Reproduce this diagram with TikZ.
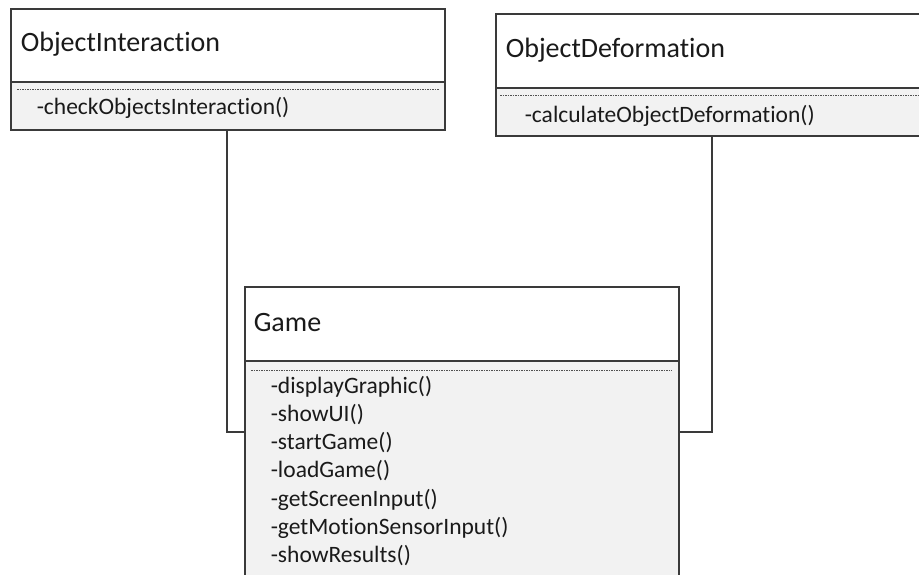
\documentclass[tikz,border=0pt]{standalone}
\usepackage{fontspec}
\setmainfont[Ligatures=NoCommon]{Carlito}
\begin{document}
\begin{tikzpicture}[x=1pt,y=-1pt,
  line width=1.6pt,
  hdr/.style={draw=boxline,fill=white,rectangle,inner sep=0pt,anchor=north west},
  ops/.style={draw=boxline,fill=opsfill,rectangle,inner sep=0pt,anchor=north west},
  title/.style={anchor=base west,inner sep=0pt,font=\fontsize{28}{34}\selectfont,text=textcol},
  op/.style={anchor=base west,inner sep=0pt,font=\fontsize{23.5}{28}\selectfont,text=textcol},
  sep/.style={draw=sepcol,line width=1pt,dash pattern=on 1.6pt off 0.9pt},
  link/.style={draw=boxline,line width=1.6pt}]
\definecolor{boxline}{HTML}{3A3A3A}
\definecolor{opsfill}{HTML}{F2F2F2}
\definecolor{sepcol}{HTML}{505050}
\definecolor{textcol}{HTML}{1A1A1A}
\useasboundingbox (0,0) rectangle (919,575);
\clip (0,0) rectangle (919,575);

% junction points of the two links
\coordinate (jl) at (227,432);
\coordinate (jr) at (712,432);

% ObjectInteraction
\node[hdr,minimum width=434pt,minimum height=73pt] (oih) at (10,8) {};
\node[ops,minimum width=434pt,minimum height=48pt] (oio) at (10,81) {};
\node[title] (oit) at (20,52) {ObjectInteraction};
\draw[sep] (17,90) -- (439,90);
\node[op] (oim) at (36,115) {-checkObjectsInteraction()};

% ObjectDeformation
\node[hdr,minimum width=440pt,minimum height=74pt] (odh) at (495,13) {};
\node[ops,minimum width=440pt,minimum height=48pt] (odo) at (495,87) {};
\node[title] (odt) at (505,58) {ObjectDeformation};
\draw[sep] (500,96) -- (930,96);
\node[op] (odm) at (524,123) {-calculateObjectDeformation()};

% links to Game (drawn first so the box covers their ends)
\draw[link] (oio.south -| jl) -- (jl) -- (244,432);
\draw[link] (odo.south -| jr) -- (jr) -- (678,432);

% Game
\node[hdr,minimum width=434pt,minimum height=74pt] (gh) at (244,286) {};
\node[ops,minimum width=434pt,minimum height=260pt] (go) at (244,360) {};
\node[title] (gt) at (253,331) {Game};
\draw[sep] (251,370) -- (672,370);
\node[op] (g1) at (270,393) {-displayGraphic()};
\node[op] (g2) at (270,421.3) {-showUI()};
\node[op] (g3) at (270,449.6) {-startGame()};
\node[op] (g4) at (270,477.9) {-loadGame()};
\node[op] (g5) at (270,506.2) {-getScreenInput()};
\node[op] (g6) at (270,534.5) {-getMotionSensorInput()};
\node[op] (g7) at (270,562.8) {-showResults()};
\end{tikzpicture}
\end{document}
